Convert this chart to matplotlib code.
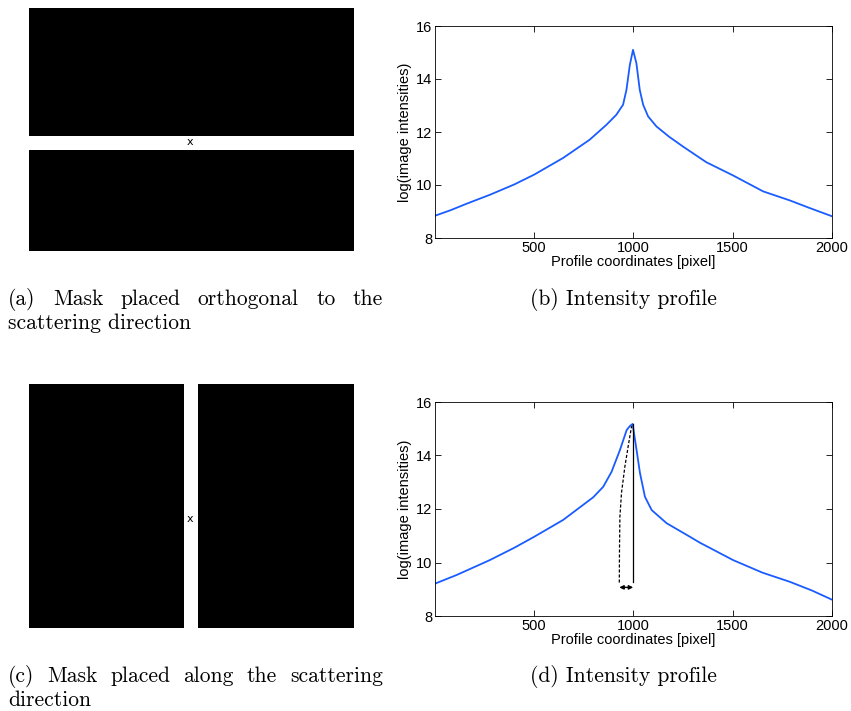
import matplotlib
matplotlib.use("Agg")
import matplotlib.pyplot as plt
from matplotlib.patches import Rectangle

W, H = 851, 711

# ---------------- data ----------------
x_b = [1, 80, 159, 277, 400, 500, 646, 780, 864, 914, 948, 965, 982, 998,
       1015, 1032, 1049, 1074, 1116, 1180, 1250, 1367, 1502, 1653, 1787, 1888, 2000]
y_b = [8.84, 9.05, 9.29, 9.63, 10.02, 10.39, 11.02, 11.71, 12.27, 12.65, 13.03, 13.59,
       14.53, 15.1, 14.6, 13.59, 13.03, 12.59, 12.21, 11.82, 11.45, 10.86, 10.36, 9.76,
       9.42, 9.13, 8.82]

x_d = [1, 109, 277, 400, 500, 646, 730, 798, 848, 890, 932, 966, 982, 996,
       1016, 1033, 1058, 1092, 1167, 1285, 1335, 1502, 1650, 1787, 1900, 2000]
y_d = [9.21, 9.53, 10.09, 10.55, 10.96, 11.59, 12.06, 12.44, 12.83, 13.39, 14.2, 14.95,
       15.1, 15.18, 14.2, 13.35, 12.46, 11.96, 11.47, 10.96, 10.74, 10.09, 9.62, 9.28,
       8.95, 8.61]

# annotation in (d): dashed guide, solid guide and width arrow
x_dash = [929, 930, 932, 940, 957, 975, 991]
y_dash = [9.25, 10.5, 11.71, 12.6, 13.58, 14.4, 15.1]
x_solid = [999, 999]
y_solid = [9.28, 15.18]
arrow_x = [929, 999]
arrow_y = 9.07

xticks = [500, 1000, 1500, 2000]
yticks = [8, 10, 12, 14, 16]

captions = {
    "a": ("(a) Mask placed orthogonal to the", "scattering direction"),
    "b": ("(b) Intensity profile",),
    "c": ("(c) Mask placed along the scattering", "direction"),
    "d": ("(d) Intensity profile",),
}

blue = "#1a5cff"

fig = plt.figure(figsize=(W / 100, H / 100), dpi=100)
renderer = fig.canvas.get_renderer()


def px_axes(x0, y0, x1, y1):
    return fig.add_axes([x0 / W, 1 - y1 / H, (x1 - x0) / W, (y1 - y0) / H])


# ---------------- mask panels ----------------
def mask_axes(x0, y0, x1, y1, rects, xpos):
    ax = px_axes(x0, y0, x1, y1)
    ax.set_xlim(x0, x1)
    ax.set_ylim(y1, y0)
    ax.axis("off")
    for (rx0, ry0, rx1, ry1) in rects:
        ax.add_patch(Rectangle((rx0, ry0), rx1 - rx0, ry1 - ry0, color="black", lw=0))
    ax.text(xpos[0], xpos[1], "x", ha="center", va="center", fontsize=8,
            family="DejaVu Sans")
    return ax


mask_axes(29, 8, 354, 251, [(29, 8, 354, 136), (29, 150, 354, 251)], (190, 142))
mask_axes(29, 384, 354, 628, [(29, 384, 184, 628), (198, 384, 354, 628)], (190, 519))


# ---------------- profile panels ----------------
def profile_axes(x0, y0, x1, y1, xs, ys):
    ax = px_axes(x0, y0, x1, y1)
    ax.plot(xs, ys, color=blue, lw=1.3)
    ax.set_xlim(1, 2000)
    ax.set_ylim(8, 16)
    ax.set_xticks(xticks)
    ax.set_yticks(yticks)
    ax.tick_params(direction="in", top=True, right=True, length=4, width=0.6,
                   labelsize=10.5, pad=2)
    for lab in ax.get_xticklabels() + ax.get_yticklabels():
        lab.set_family("Liberation Sans")
    for s in ax.spines.values():
        s.set_linewidth(0.6)
    ax.set_xlabel("Profile coordinates [pixel]", family="Liberation Sans",
                  fontsize=10.5, labelpad=0)
    ax.set_ylabel("log(image intensities)", family="Liberation Sans",
                  fontsize=10.5, labelpad=3)
    return ax


profile_axes(435, 26, 832, 238, x_b, y_b)
axd = profile_axes(435, 402, 832, 616, x_d, y_d)
axd.plot(x_dash, y_dash, color="black", lw=0.9, ls=(0, (2.5, 1.5)))
axd.plot(x_solid, y_solid, color="black", lw=0.9)
axd.annotate("", xy=(arrow_x[0], arrow_y), xytext=(arrow_x[1], arrow_y),
             arrowprops=dict(arrowstyle="<|-|>", color="black", lw=1.0,
                             mutation_scale=6, shrinkA=0, shrinkB=0))

# ---------------- captions ----------------
cap_font = dict(family="cmr10", fontsize=15.5, va="baseline")


def justified(line, x0, x1, ybase):
    words = line.split()
    texts = [fig.text(0, 1 - ybase / H, w, **cap_font) for w in words]
    widths = [t.get_window_extent(renderer).width for t in texts]
    gap = (x1 - x0 - sum(widths)) / (len(words) - 1)
    x = x0
    for t, w in zip(texts, widths):
        t.set_x(x / W)
        x += w + gap


justified(captions["a"][0], 8, 383, 305)
fig.text(8 / W, 1 - 329 / H, captions["a"][1], **cap_font)
fig.text(530 / W, 1 - 305 / H, captions["b"][0], **cap_font)
justified(captions["c"][0], 8, 383, 682)
fig.text(8 / W, 1 - 706 / H, captions["c"][1], **cap_font)
fig.text(530 / W, 1 - 682 / H, captions["d"][0], **cap_font)

fig.savefig("out.png", dpi=100)
